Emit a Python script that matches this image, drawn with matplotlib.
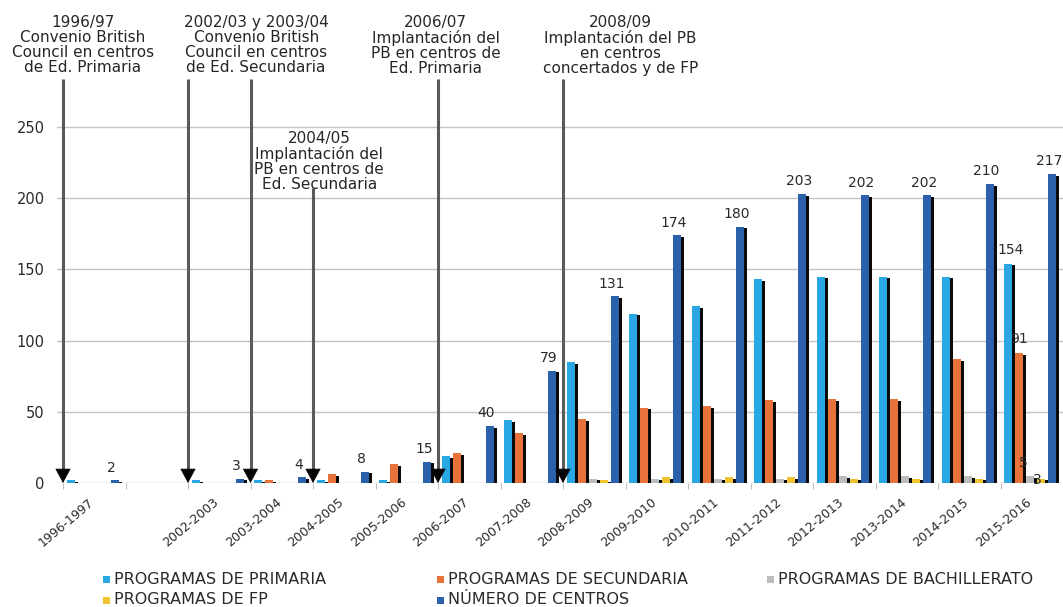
import numpy as np
import matplotlib
matplotlib.use("Agg")
import matplotlib.pyplot as plt
from matplotlib.patches import Rectangle

plt.rcParams['font.family'] = ['DejaVu Sans']

# Programas bilingües por curso escolar (la segunda categoría queda vacía)
cursos = ["1996-1997", "", "2002-2003", "2003-2004", "2004-2005", "2005-2006",
          "2006-2007", "2007-2008", "2008-2009", "2009-2010", "2010-2011",
          "2011-2012", "2012-2013", "2013-2014", "2014-2015", "2015-2016"]
primaria = [2, 0, 2, 2, 2, 2, 19, 44, 85, 119, 124, 143, 145, 145, 145, 154]
secundaria = [0, 0, 0, 2, 6, 13, 21, 35, 45, 53, 54, 58, 59, 59, 87, 91]
bachillerato = [0, 0, 0, 0, 0, 0, 0, 0, 3, 3, 3, 3, 5, 5, 5, 5]
fp = [0, 0, 0, 0, 0, 0, 0, 0, 2, 4, 4, 4, 3, 3, 3, 3]
centros = [2, 0, 3, 4, 8, 15, 40, 79, 131, 174, 180, 203, 202, 202, 210, 217]

series = [primaria, secundaria, bachillerato, fp, centros]
nombres = ["PROGRAMAS DE PRIMARIA", "PROGRAMAS DE SECUNDARIA",
           "PROGRAMAS DE BACHILLERATO", "PROGRAMAS DE FP", "NÚMERO DE CENTROS"]
colores = ["#29a6e4", "#e8733a", "#bdbdbd", "#efc22f", "#2b60aa"]

# Hitos: texto y cursos a los que apunta cada flecha
hitos = ["1996/97\nConvenio British\nCouncil en centros\nde Ed. Primaria",
         "2002/03 y 2003/04\nConvenio British\nCouncil en centros\nde Ed. Secundaria",
         "2004/05\nImplantación del\nPB en centros de\nEd. Secundaria",
         "2006/07\nImplantación del\nPB en centros de\nEd. Primaria",
         "2008/09\nImplantación del PB\nen centros\nconcertados y de FP"]
hitos_cursos = [["1996-1997"], ["2002-2003", "2003-2004"], ["2004-2005"],
                ["2006-2007"], ["2008-2009"]]
# posición del texto (x en categorías, y en unidades del eje) y arranque de la flecha
hitos_pos = [(0.32, 329, 284), (3.09, 329, 284), (4.10, 247, 207),
             (5.96, 329, 284), (8.92, 329, 284)]

fig = plt.figure(figsize=(10.63, 6.07), dpi=100)
ax = fig.add_axes([57 / 1063, 124 / 607, 1006 / 1063, 483 / 607])

n = len(cursos)
grupo = 0.88
slot = grupo / len(series)
frac = 0.74          # parte coloreada de cada barra, el resto es la sombra
x0 = np.arange(n) + (1 - grupo) / 2

for k, (vals, col) in enumerate(zip(series, colores)):
    for i, v in enumerate(vals):
        if v <= 0:
            continue
        left = x0[i] + k * slot
        ax.add_patch(Rectangle((left, 0), slot * frac, v, facecolor=col,
                               edgecolor='none', zorder=3))
        ax.add_patch(Rectangle((left + slot * frac, 0), slot * (1 - frac),
                               max(v - 1.2, 0), facecolor='#0a0a0a',
                               edgecolor='none', zorder=3))

# etiquetas del número de centros
for i, v in enumerate(centros):
    if v > 0:
        xc = x0[i] + 4 * slot + slot * frac / 2
        ax.annotate(str(v), (xc, v), xytext=(-2.5, 4), textcoords='offset points',
                    ha='center', va='bottom', fontsize=10, color='#2a2a2a',
                    zorder=5)

# etiquetas del último curso
ult = n - 1
for k, vals, dx, dy in [(0, primaria, 2, 5), (1, secundaria, 0, 5),
                        (2, bachillerato, -5, 4), (3, fp, -3, -1)]:
    xc = x0[ult] + k * slot + slot * frac / 2
    ax.annotate(str(vals[ult]), (xc, vals[ult]), xytext=(dx, dy),
                textcoords='offset points', ha='center',
                va='bottom' if dy > 0 else 'center', fontsize=10,
                color='#2a2a2a', zorder=5)

# hitos con flechas
for texto, cur, (tx, ty, ya) in zip(hitos, hitos_cursos, hitos_pos):
    ax.text(tx, ty, texto, ha='center', va='top', fontsize=11,
            color='#262626', linespacing=1.0, zorder=6)
    for c in cur:
        xa = cursos.index(c)
        ax.plot([xa, xa], [ya, 8], color='#5a5a5a', lw=2.2, zorder=4,
                solid_capstyle='butt', clip_on=False)
        ax.annotate('', xy=(xa, 0), xytext=(xa, 10),
                    arrowprops=dict(arrowstyle='-|>,head_length=0.5,head_width=0.27',
                                    mutation_scale=19, color='#050505', lw=0.5,
                                    shrinkA=0, shrinkB=0), zorder=6)

ax.set_xlim(-0.096, (1063 - 63) / 62.7)
ax.set_ylim(0, 483 / 71.2 * 50)
ax.set_yticks(np.arange(0, 251, 50))
ax.tick_params(axis='y', length=0, pad=9, labelsize=10.5, labelcolor='#2a2a2a')
ax.grid(axis='y', color='#c4c4c4', lw=1, zorder=0)
ax.set_axisbelow(True)
for s in ax.spines.values():
    s.set_visible(False)

ax.set_xticks(np.arange(n) + 0.4)
ax.set_xticklabels(cursos, rotation=40, ha='right', rotation_mode='anchor',
                   fontsize=9, color='#2a2a2a')
ax.tick_params(axis='x', which='major', length=0, pad=9)
ax.set_xticks(np.arange(n + 1), minor=True)
ax.tick_params(axis='x', which='minor', length=4, color='#b0b0b0')

# leyenda en dos filas
leyenda_pos = [(103, 579), (437, 579), (767, 579), (103, 600), (437, 600)]
for nombre, col, (lx, ly) in zip(nombres, colores, leyenda_pos):
    fig.patches.append(Rectangle((lx / 1063, 1 - (ly + 4) / 607), 7 / 1063, 7 / 607,
                                 transform=fig.transFigure, facecolor=col,
                                 edgecolor='none'))
    fig.text((lx + 11) / 1063, 1 - ly / 607, nombre, ha='left', va='center',
             fontsize=11.5, color='#2a2a2a')

fig.savefig('out.png', dpi=100)
